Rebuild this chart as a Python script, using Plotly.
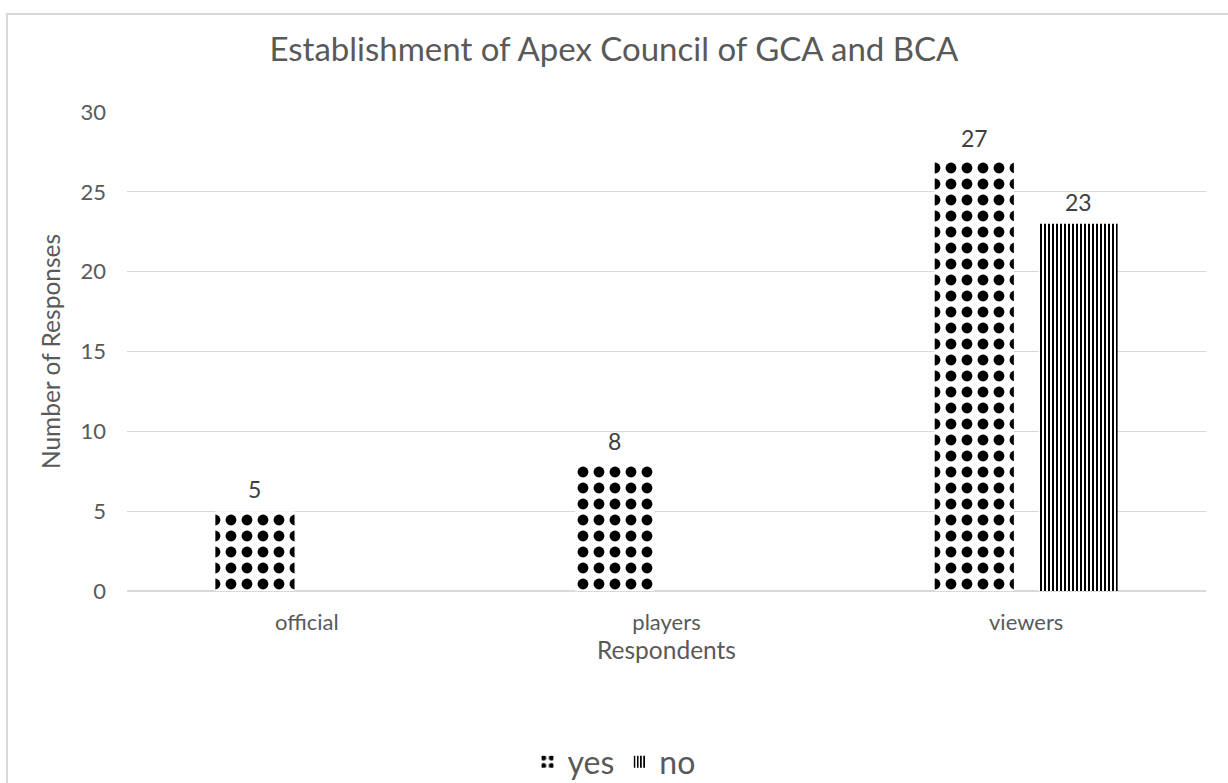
import plotly.graph_objects as go

# Survey responses by respondent group
categories = ["official", "players", "viewers"]
yes_counts = [5, 8, 27]
no_counts = [None, None, 23]

title_text = "Establishment of Apex Council of GCA and BCA"
x_title = "Respondents"
y_title = "Number of Responses"
y_ticks = [0, 5, 10, 15, 20, 25, 30]

FONT = "Lato"
TEXT = "#595959"

W, H = 1228, 783
L, R, T, B = 127, 22, 112, 192
pw, ph = W - L - R, H - T - B

BARGAP, GROUPGAP = 0.423, 0.237
series = [("yes", yes_counts, ".", 16, 0.36), ("no", no_counts, "|", 4, 0.5)]

fig = go.Figure()
for name, vals, shape, psize, solid in series:
    fig.add_trace(go.Bar(
        name=name, x=categories, y=vals,
        marker=dict(color="white", line=dict(width=0),
                    pattern=dict(shape=shape, fgcolor="black", bgcolor="white",
                                 size=psize, solidity=solid, fillmode="replace")),
    ))

# value labels above each bar, positioned in category units
n = len(series)
slot = (1 - BARGAP) / n
for si, (name, vals, *_rest) in enumerate(series):
    offset = -(1 - BARGAP) / 2 + slot * (si + 0.5)
    for ci, v in enumerate(vals):
        if v is None:
            continue
        fig.add_annotation(x=ci + offset, y=v, xref="x", yref="y",
                           text=str(v), showarrow=False, yanchor="bottom",
                           yshift=6, font=dict(size=23, color="#404040", family=FONT))

# chart-area border
fig.add_shape(type="rect", xref="paper", yref="paper",
              x0=(7 - L) / pw, x1=(W + 20 - L) / pw,
              y0=-(H + 20 - (H - B)) / ph, y1=1 + (T - 14) / ph,
              line=dict(color="#d9d9d9", width=2), fillcolor="rgba(0,0,0,0)",
              layer="below")

fig.update_layout(
    width=W, height=H,
    margin=dict(l=L, r=R, t=T, b=B),
    paper_bgcolor="white", plot_bgcolor="white",
    font=dict(family=FONT, color=TEXT, size=22),
    title=dict(text=title_text, x=0.5, xref="container", xanchor="center",
               y=1 - 49 / H, yref="container", yanchor="middle",
               font=dict(size=33, color=TEXT, family=FONT)),
    barmode="group", bargap=BARGAP, bargroupgap=GROUPGAP,
    showlegend=True,
    legend=dict(orientation="h", xref="container", x=0.5, xanchor="center",
                yref="container", y=1 - 762 / H, yanchor="middle",
                font=dict(size=32, color=TEXT, family=FONT),
                itemwidth=30),
    xaxis=dict(title=dict(text=x_title, font=dict(size=24.5, color=TEXT), standoff=6),
               tickfont=dict(size=22, color=TEXT), showgrid=False,
               showline=True, linecolor="#d9d9d9", linewidth=1, ticks="",
               ticklabelstandoff=12),
    yaxis=dict(title=dict(text=y_title, font=dict(size=24.5, color=TEXT), standoff=12),
               range=[0, 30], tickvals=y_ticks, tickfont=dict(size=22, color=TEXT),
               showgrid=True, gridcolor="#d9d9d9", gridwidth=1,
               zeroline=True, zerolinecolor="#d9d9d9", ticks="", ticklabelstandoff=20),
)

fig.write_html("out.html")
